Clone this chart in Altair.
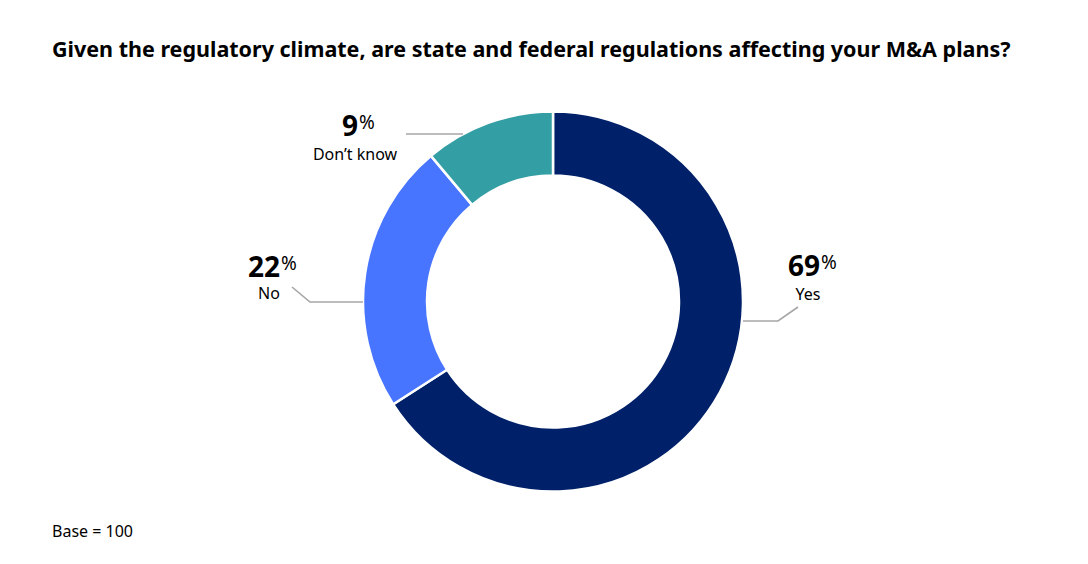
import altair as alt
import pandas as pd

# ---- data ----
categories = ["Yes", "No", "Don\u2019t know"]
label_values = [69, 22, 9]           # printed percentages
arc_values = [65.9, 23.0, 11.1]      # slice sizes as drawn in the picture
colors = ["#002169", "#4875FF", "#339EA3"]
title_text = "Given the regulatory climate, are state and federal regulations affecting your M&A plans?"
footnote_text = "Base = 100"

W, H = 1072, 548
CX, CY = 545, 293.5
R_OUT, R_IN = 190, 126
FONT = "Noto Sans"

# annotation layout (chart pixel coordinates)
leader_x = [[735, 770, 790], [355, 302, 284], [455, 398]]
leader_y = [[313, 313, 299], [294, 294, 279], [126, 126]]
num_x = [812, 272, 350]
num_y = [268, 269, 128]
lab_x = [800, 261, 347]
lab_y = [292, 291, 152]

df = pd.DataFrame({"category": categories, "value": arc_values, "order": list(range(len(arc_values)))})

xs = alt.Scale(domain=[0, W], range=[0, W], nice=False, zero=False)
ys = alt.Scale(domain=[0, H], range=[0, H], nice=False, zero=False)

arc = alt.Chart(df).mark_arc(outerRadius=R_OUT, innerRadius=R_IN, stroke="white", strokeWidth=2.5).encode(
    theta=alt.Theta("value:Q", stack=True),
    order=alt.Order("order:Q"),
    color=alt.Color("category:N", scale=alt.Scale(domain=categories, range=colors), legend=None),
    x=alt.value(CX),
    y=alt.value(CY),
)

rows = []
for c, lx, ly in zip(categories, leader_x, leader_y):
    for i, (a, b) in enumerate(zip(lx, ly)):
        rows.append({"category": c, "i": i, "px": a, "py": b})
leaders = alt.Chart(pd.DataFrame(rows)).mark_line(color="#A6A6A6", strokeWidth=1.6).encode(
    x=alt.X("px:Q", scale=xs, axis=None),
    y=alt.Y("py:Q", scale=ys, axis=None),
    detail="category:N",
    order="i:Q",
)

lab_df = pd.DataFrame({
    "category": categories,
    "num": [str(v) for v in label_values],
    "nx": num_x, "ny": num_y, "lx": lab_x, "ly": lab_y,
})
nums = alt.Chart(lab_df).mark_text(font=FONT, fontSize=28, fontWeight="bold", align="right",
                                    baseline="alphabetic", color="#000000").encode(
    x=alt.X("nx:Q", scale=xs, axis=None), y=alt.Y("ny:Q", scale=ys, axis=None), text="num:N")
pct = alt.Chart(lab_df).mark_text(font=FONT, fontSize=19, align="left", baseline="alphabetic",
                                   dx=1, dy=-7, color="#000000", text="%").encode(
    x=alt.X("nx:Q", scale=xs, axis=None), y=alt.Y("ny:Q", scale=ys, axis=None))
labs = alt.Chart(lab_df).mark_text(font=FONT, fontSize=16, align="center", baseline="alphabetic",
                                    color="#000000").encode(
    x=alt.X("lx:Q", scale=xs, axis=None), y=alt.Y("ly:Q", scale=ys, axis=None), text="category:N")

meta = pd.DataFrame({"t": [title_text], "f": [footnote_text]})
title = alt.Chart(meta).mark_text(font=FONT, fontSize=21.5, fontWeight="bold", align="left",
                                   baseline="alphabetic", color="#000000").encode(
    x=alt.value(44), y=alt.value(49), text="t:N")
foot = alt.Chart(meta).mark_text(font=FONT, fontSize=16, align="left", baseline="alphabetic",
                                  color="#000000").encode(
    x=alt.value(44), y=alt.value(529), text="f:N")

chart = alt.layer(arc, leaders, nums, pct, labs, title, foot).properties(
    width=W, height=H, padding=0,
    autosize=alt.AutoSizeParams(type="fit", contains="padding"),
).configure_view(stroke=None)

chart.save("out.html", embed_options={"renderer": "svg", "actions": False})
